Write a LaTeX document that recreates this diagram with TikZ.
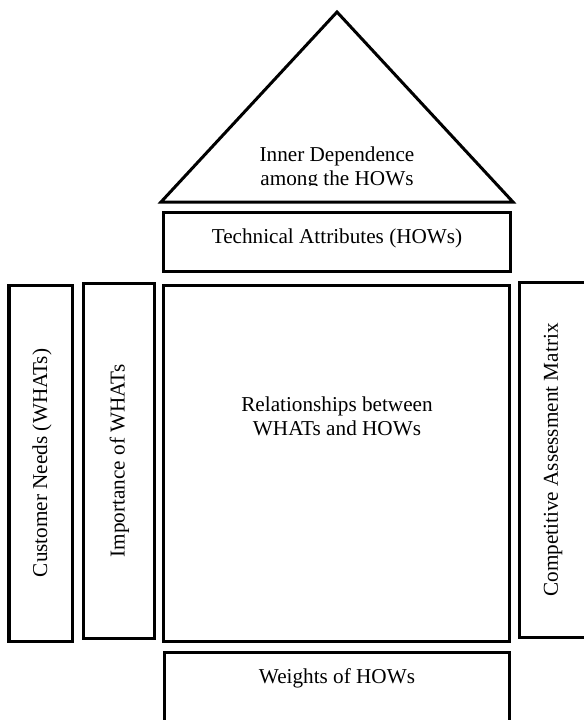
\documentclass[tikz,border=0pt]{standalone}
\usepackage{fontspec}
\setmainfont{Liberation Serif}
\begin{document}
\begin{tikzpicture}[x=0.5pt,y=-0.5pt,
    every node/.append style={inner sep=0pt, font=\fontsize{10.6}{12}\selectfont},
    blk/.style={draw=black, line width=1.5pt, rectangle},
    lbl/.style={align=center}]
    \clip (0,0) rectangle (584,720);
    % roof
    \coordinate (apex) at (337,12);
    \coordinate (eaveL) at (161,202);
    \coordinate (eaveR) at (513,202);
    \draw [black, line width=1.5pt] (apex) -- (eaveR) -- (eaveL) -- cycle;
    \begin{scope}
    \clip (160,120) rectangle (514,185);
    \node [lbl] (roof) at (337,168) {Inner Dependence\\among the HOWs};
    \end{scope}
    % boxes
    \node [blk, minimum width=173.5pt, minimum height=29.5pt] (hows) at (337.5,241.5) {};
    \node [blk, minimum width=32pt, minimum height=178pt] (whats) at (41,463) {};
    \node [blk, minimum width=35.5pt, minimum height=177.5pt] (imp) at (119.5,460.5) {};
    \node [blk, minimum width=173pt, minimum height=178pt] (rel) at (337,463) {};
    \node [blk, minimum width=34pt, minimum height=177.5pt] (comp) at (554,459.5) {};
    \node [blk, minimum width=172.5pt, minimum height=39pt] (wts) at (337.5,691) {};
    % labels
    \node [lbl] (howsT) at (337,238) {Technical Attributes (HOWs)};
    \node [lbl, rotate=90] (whatsT) at (42,463) {Customer Needs (WHATs)};
    \node [lbl, rotate=90] (impT) at (119.5,461) {Importance of WHATs};
    \node [lbl] (relT) at (337,416) {Relationships between\\WHATs and HOWs};
    \node [lbl, rotate=90] (compT) at (553,460) {Competitive Assessment Matrix};
    \node [lbl] (wtsT) at (337,678) {Weights of HOWs};
\end{tikzpicture}
\end{document}
